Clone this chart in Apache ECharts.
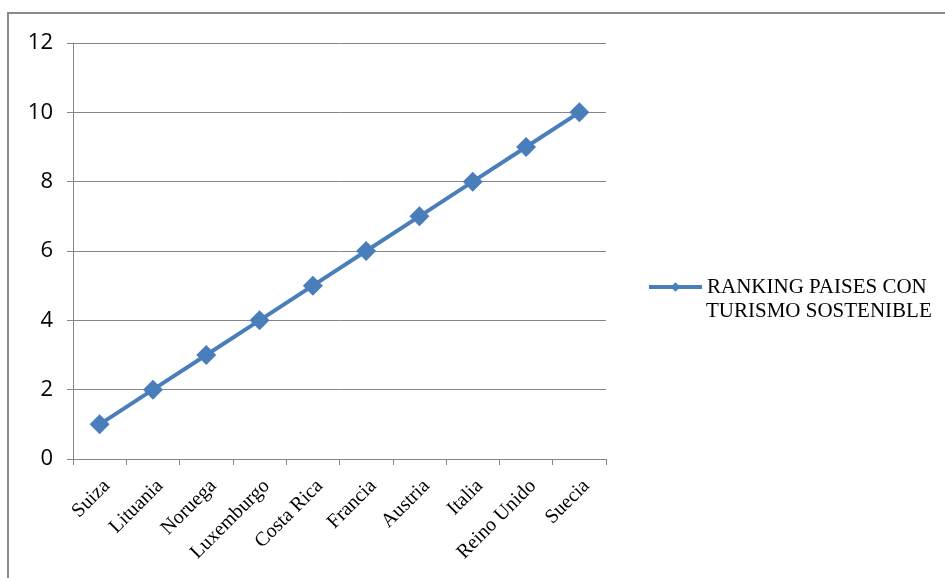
<!DOCTYPE html>
<html><head><meta charset="utf-8">
<script src="https://cdn.jsdelivr.net/npm/echarts@6/dist/echarts.min.js"></script>
<style>html,body{margin:0;padding:0;background:#fff}#c{width:945px;height:578px}</style>
</head><body><div id="c"></div>
<script>
const categories = ['Suiza','Lituania','Noruega','Luxemburgo','Costa Rica','Francia','Austria','Italia','Reino Unido','Suecia'];
const values = [1,2,3,4,5,6,7,8,9,10];
const seriesName = 'RANKING PAISES CON';
const seriesName2 = 'TURISMO SOSTENIBLE';
const yTicks = [0,2,4,6,8,10,12];

const chart = echarts.init(document.getElementById('c'));
chart.setOption({
  animation:false,
  graphic:[
    {type:'rect',shape:{x:8,y:13,width:960,height:600},style:{fill:'none',stroke:'#8a8a8a',lineWidth:2},silent:true},
    {type:'text',left:706,top:301,style:{text:seriesName2,font:'21px "Liberation Serif"',fill:'#000'},silent:true}
  ],
  grid:{left:73,right:339,top:43,bottom:119},
  legend:{
    left:642, top:271, itemWidth:53, itemHeight:12, itemGap:0,
    data:[{name:seriesName}],
    lineStyle:{width:4},
    textStyle:{fontFamily:'Liberation Serif',fontSize:21,color:'#000',lineHeight:22}
  },
  xAxis:{
    type:'category', data:categories, boundaryGap:true,
    axisLine:{lineStyle:{color:'#868686',width:1}},
    axisTick:{show:true,length:6,alignWithLabel:false,lineStyle:{color:'#868686'}},
    axisLabel:{rotate:45,interval:0,fontFamily:'Liberation Serif',fontSize:20,color:'#000',margin:17,verticalAlign:'top'}
  },
  yAxis:{
    type:'value', min:yTicks[0], max:yTicks[yTicks.length-1], interval:2,
    axisLine:{show:true,lineStyle:{color:'#868686',width:1}},
    axisTick:{show:true,length:6,lineStyle:{color:'#868686'}},
    splitLine:{lineStyle:{color:'#868686',width:1}},
    axisLabel:{fontFamily:'Open Sans',fontSize:22,color:'#000',margin:20}
  },
  series:[{
    name:seriesName, type:'line', data:values,
    symbol:'diamond', symbolSize:20,
    lineStyle:{color:'#4a7ebb',width:4},
    itemStyle:{color:'#4a7ebb'}
  }]
});
</script></body></html>
